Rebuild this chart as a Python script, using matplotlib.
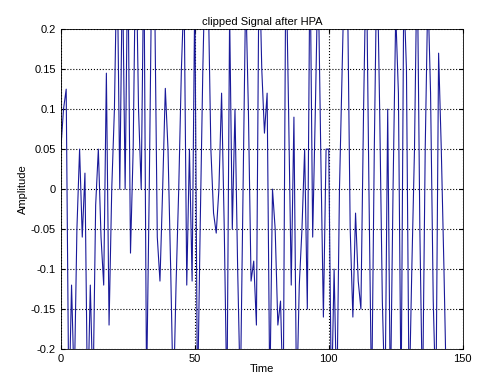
import numpy as np
import matplotlib
matplotlib.use('Agg')
import matplotlib.pyplot as plt

plt.rcParams['font.family'] = 'Liberation Sans'

# sample values (clipped by the axis limits)
amp = [0.05, 0.10, 0.125, -0.28, -0.12, -0.25, -0.05, 0.05, -0.06, 0.02,
       -0.28, -0.12, -0.26, -0.02, 0.05, -0.06, -0.12, 0.145, -0.17, 0.0,
       0.1, 0.3, 0.0, 0.28, 0.0, 0.3, -0.08, 0.05, 0.32, 0.1,
       0.0, 0.3, -0.25, 0.0, 0.3, 0.25, -0.06, -0.115, 0.0, 0.126,
       0.05, -0.1, -0.27, -0.12, 0.0, 0.15, 0.25, -0.12, 0.05, -0.115,
       0.25, -0.27, -0.05, 0.15, 0.3, 0.25, 0.05, -0.03, -0.055, 0.0,
       0.12, -0.05, -0.27, 0.22, -0.05, 0.1, -0.1, -0.26, 0.0, 0.25,
       0.1, -0.115, -0.09, -0.17, 0.3, 0.15, 0.07, 0.12, -0.26, 0.0,
       -0.05, -0.17, -0.14, -0.27, 0.3, 0.1, -0.12, 0.09, -0.27, -0.12,
       -0.05, 0.05, -0.15, 0.3, -0.06, 0.1, 0.28, 0.05, -0.16, 0.05,
       0.05, -0.27, -0.1, -0.27, 0.0, 0.15, 0.3, 0.25, -0.05, -0.16,
       -0.03, -0.115, -0.15, 0.1, 0.3, 0.0, -0.27, 0.05, 0.3, 0.1,
       -0.14, -0.27, 0.1, -0.27, 0.0, 0.22, 0.12, -0.27, 0.25, 0.15,
       -0.27, -0.1, 0.05, 0.3, -0.05, -0.27, 0.05, 0.25, 0.12, -0.14,
       -0.27, 0.17, 0.05, -0.1, -0.27]
t = np.arange(len(amp))

yticks = [-0.2, -0.15, -0.1, -0.05, 0, 0.05, 0.1, 0.15, 0.2]
ylabels = ['-0.2', '-0.15', '-0.1', '-0.05', '0', '0.05', '0.1', '0.15', '0.2']
xticks = [0, 50, 100, 150]

fig = plt.figure(figsize=(4.79, 3.79), dpi=100)
ax = fig.add_axes([0.127, 0.079, 0.839, 0.844])
ax.plot(t, amp, color='#1a1a9a', linewidth=0.8)
ax.set_xlim(0, 150)
ax.set_ylim(-0.2, 0.2)
ax.set_xticks(xticks)
ax.set_yticks(yticks)
ax.set_yticklabels(ylabels)
ax.grid(True, linestyle=':', color='black', linewidth=0.8)
ax.tick_params(direction='in', labelsize=8, length=3, top=True, right=True)
for s in ax.spines.values():
    s.set_linewidth(0.6)
ax.set_title('clipped Signal after HPA', fontsize=8, pad=3)
ax.set_xlabel('Time', fontsize=8, labelpad=0)
ax.set_ylabel('Amplitude', fontsize=8, labelpad=2)
fig.savefig('out.png', dpi=100)
